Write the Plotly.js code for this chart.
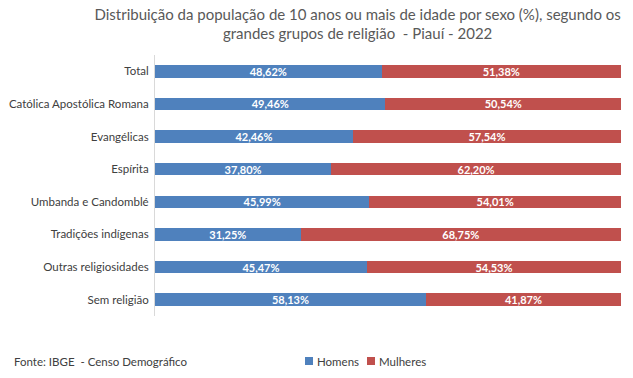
<!DOCTYPE html>
<html><head><meta charset="utf-8">
<script src="https://cdn.plot.ly/plotly-3.0.1.min.js"></script>
<style>html,body{margin:0;padding:0;background:#fff}#c{width:633px;height:378px}</style>
</head><body><div id="c"></div>
<script>
var categories = ["Total","Católica Apostólica Romana","Evangélicas","Espírita","Umbanda e Candomblé","Tradições indígenas","Outras religiosidades","Sem religião"];
var homens = [48.62,49.46,42.46,37.80,45.99,31.25,45.47,58.13];
var mulheres = [51.38,50.54,57.54,62.20,54.01,68.75,54.53,41.87];
var seriesNames = ["Homens","Mulheres"];
var seriesColors = ["#4F81BD","#C0504D"];

var FONT = "Lato, 'Open Sans', sans-serif";
var labelFont = {family:FONT, size:11, color:"#ffffff", weight:"bold"};
var traces = [homens, mulheres].map(function(vals, i){
  return {type:"bar", orientation:"h", name:seriesNames[i], y:categories, x:vals, marker:{color:seriesColors[i]},
    texttemplate:"%{x:.2f}%", textposition:"inside", insidetextanchor:"middle", constraintext:"none",
    textfont:labelFont, hoverinfo:"none", width:0.38, showlegend:false};
});

// legend drawn as small squares + labels (positions in pixels converted to paper)
var W = 633 - 155 - 12, H = 378 - 55 - 62;
function px(x){ return (x - 155) / W; }
function py(y){ return (378 - 62 - y) / H; }
var shapes = [], annotations = [];
var legX = [305, 367];
seriesNames.forEach(function(n, i){
  shapes.push({type:"rect", xref:"paper", yref:"paper", x0:px(legX[i]), x1:px(legX[i]+8), y0:py(365), y1:py(357),
    fillcolor:seriesColors[i], line:{width:0}});
  annotations.push({text:n, xref:"paper", yref:"paper", x:px(legX[i]+10), xanchor:"left", y:py(361), yanchor:"middle",
    showarrow:false, font:{size:11.5, color:"#404040", family:FONT}});
});
annotations.push({text:"Fonte: IBGE  - Censo Demográfico", xref:"paper", yref:"paper", x:px(12), xanchor:"left", y:py(361), yanchor:"middle",
   showarrow:false, font:{size:11.5, color:"#404040", family:FONT}});

var layout = {
 width:633, height:378, barmode:"stack", separators:",.",
 margin:{l:155, r:12, t:55, b:62},
 paper_bgcolor:"#fff", plot_bgcolor:"#fff",
 font:{family:FONT, color:"#404040"},
 title:{text:"Distribuição da população de 10 anos ou mais de idade por sexo (%), segundo os<br>grandes grupos de religião  - Piauí - 2022",
   font:{size:15, color:"#595959", family:FONT}, x:0.565, xanchor:"center", yref:"container", y:0.948, yanchor:"middle"},
 xaxis:{range:[0,100], visible:false, showgrid:false, zeroline:false, fixedrange:true},
 yaxis:{autorange:"reversed", type:"category", showline:true, linecolor:"#d9d9d9", linewidth:1,
   ticks:"", tickfont:{size:11.5, color:"#404040", family:FONT}, showgrid:false, fixedrange:true, ticklabelstandoff:3},
 showlegend:false,
 shapes:shapes,
 annotations:annotations
};
Plotly.newPlot("c", traces, layout, {displayModeBar:false, staticPlot:true});
</script></body></html>
